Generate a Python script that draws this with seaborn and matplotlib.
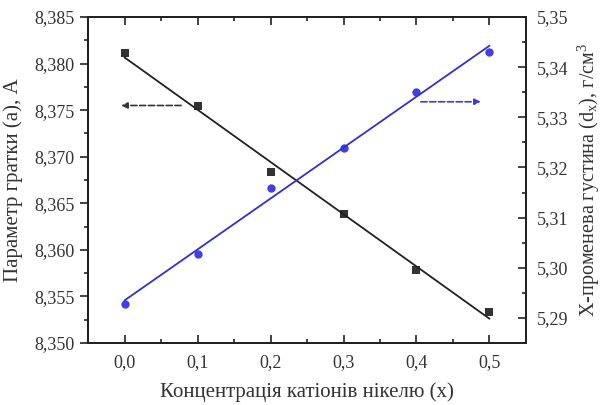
import matplotlib
matplotlib.use("Agg")
import matplotlib.pyplot as plt
import matplotlib.ticker as mticker
import numpy as np
import pandas as pd
import seaborn as sns

# ---- data ----
x_conc = [0.0, 0.1, 0.2, 0.3, 0.4, 0.5]
lattice_a = [8.3811, 8.3754, 8.3684, 8.3638, 8.3578, 8.3533]
density_dx = [5.2928, 5.3028, 5.3159, 5.3238, 5.3350, 5.3430]
x_ticks = [0.0, 0.1, 0.2, 0.3, 0.4, 0.5]
left_ticks = [8.350, 8.355, 8.360, 8.365, 8.370, 8.375, 8.380, 8.385]
right_ticks = [5.29, 5.30, 5.31, 5.32, 5.33, 5.34, 5.35]

df = pd.DataFrame({"x": x_conc, "a": lattice_a, "d": density_dx})

sns.set_style("ticks")
plt.rcParams["font.family"] = ["Liberation Serif", "DejaVu Serif"]
plt.rcParams["mathtext.fontset"] = "custom"
plt.rcParams["mathtext.rm"] = "Liberation Serif"
plt.rcParams["mathtext.it"] = "Liberation Serif:italic"

fig = plt.figure(figsize=(6.04, 4.05), dpi=100)
ax = fig.add_axes([88 / 604, 1 - 343 / 405, (526 - 88) / 604, (343 - 17) / 405])
ax2 = ax.twinx()

sns.regplot(data=df, x="x", y="a", ax=ax, ci=None, color="black",
            marker="s", scatter_kws={"s": 28, "linewidths": 0},
            line_kws={"lw": 1.3, "color": "#222222"})
sns.regplot(data=df, x="x", y="d", ax=ax2, ci=None, color="#1010e0",
            marker="o", scatter_kws={"s": 36, "linewidths": 0},
            line_kws={"lw": 1.3, "color": "#3030d0"})

ax.set_xlim(-0.05, 0.55)
ax.set_ylim(8.350, 8.385)
ax2.set_ylim(5.285, 5.35)

ax.set_xticks(x_ticks)
ax.set_yticks(left_ticks)
ax2.set_yticks(right_ticks)
ax.xaxis.set_minor_locator(mticker.MultipleLocator(0.05))
ax.yaxis.set_minor_locator(mticker.MultipleLocator(0.0025))
ax2.yaxis.set_minor_locator(mticker.MultipleLocator(0.005))

ax.xaxis.set_major_formatter(mticker.FuncFormatter(lambda v, p: f"{v:.1f}".replace(".", ",")))
ax.yaxis.set_major_formatter(mticker.FuncFormatter(lambda v, p: f"{v:.3f}".replace(".", ",")))
ax2.yaxis.set_major_formatter(mticker.FuncFormatter(lambda v, p: f"{v:.2f}".replace(".", ",")))

for a in (ax, ax2):
    for s in a.spines.values():
        s.set_linewidth(1.4)
        s.set_color("#222222")

lab_col = "#333333"
ax.tick_params(axis="x", which="both", direction="in", top=True, labelsize=13, pad=8, colors="#222222", labelcolor=lab_col)
ax.tick_params(axis="x", which="major", length=6, width=1.2)
ax.tick_params(axis="x", which="minor", length=3, width=1.2)
ax.tick_params(axis="y", which="both", direction="out", labelsize=13, colors="#222222", labelcolor=lab_col)
ax.tick_params(axis="y", which="major", length=6, width=1.2)
ax.tick_params(axis="y", which="minor", length=3, width=1.2)
ax2.tick_params(axis="y", which="both", direction="in", labelsize=13, pad=8, colors="#222222", labelcolor=lab_col)
ax2.tick_params(axis="y", which="major", length=6, width=1.2)
ax2.tick_params(axis="y", which="minor", length=3, width=1.2)

ax.set_xlabel("Концентрація катіонів нікелю (x)", fontsize=15, color=lab_col, labelpad=8)
ax.set_ylabel("Параметр гратки (а), А", fontsize=15, color=lab_col, labelpad=8)
ax2.set_ylabel("X-променева густина (d$_{\\rm x}$), г/см$^3$", fontsize=14.5, color=lab_col, labelpad=5)

# direction arrows
ax.annotate("", xy=(-0.0045, 8.3755), xytext=(0.0776, 8.3755),
            arrowprops=dict(arrowstyle="-|>", linestyle="--", color="#333333", lw=1.2,
                            mutation_scale=9, shrinkA=0, shrinkB=0))
ax2.annotate("", xy=(0.488, 5.3331), xytext=(0.406, 5.3331),
             arrowprops=dict(arrowstyle="-|>", linestyle="--", color="#3a3ae0", lw=1.2,
                             mutation_scale=9, shrinkA=0, shrinkB=0))

fig.savefig("out.png", dpi=100)
